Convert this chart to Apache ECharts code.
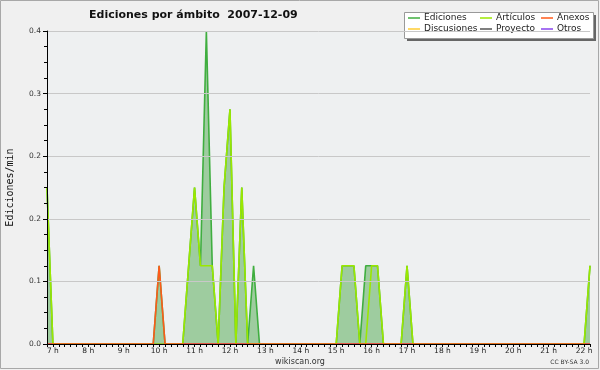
<!DOCTYPE html>
<html><head><meta charset="utf-8">
<script src="https://cdn.jsdelivr.net/npm/echarts@6/dist/echarts.min.js"></script>
<style>html,body{margin:0;padding:0;background:#f0f0f0}#c{width:600px;height:370px}</style>
</head><body><div id="c"></div>
<script>
// 10-minute bins, 6:50 .. 22:10
var categories = [
 "6:50",
 "7:00","7:10","7:20","7:30","7:40","7:50",
 "8:00","8:10","8:20","8:30","8:40","8:50",
 "9:00","9:10","9:20","9:30","9:40","9:50",
 "10:00","10:10","10:20","10:30","10:40","10:50",
 "11:00","11:10","11:20","11:30","11:40","11:50",
 "12:00","12:10","12:20","12:30","12:40","12:50",
 "13:00","13:10","13:20","13:30","13:40","13:50",
 "14:00","14:10","14:20","14:30","14:40","14:50",
 "15:00","15:10","15:20","15:30","15:40","15:50",
 "16:00","16:10","16:20","16:30","16:40","16:50",
 "17:00","17:10","17:20","17:30","17:40","17:50",
 "18:00","18:10","18:20","18:30","18:40","18:50",
 "19:00","19:10","19:20","19:30","19:40","19:50",
 "20:00","20:10","20:20","20:30","20:40","20:50",
 "21:00","21:10","21:20","21:30","21:40","21:50",
 "22:00","22:10"
];
var ediciones = [
 0.2,
 0,0,0,0,0,0,
 0,0,0,0,0,0,
 0,0,0,0,0,0,
 0.1,0,0,0,0,0.1,
 0.2,0.1,0.4,0.1,0,0.2,
 0.3,0,0.2,0,0.1,0,
 0,0,0,0,0,0,
 0,0,0,0,0,0,
 0,0.1,0.1,0.1,0,0.1,
 0.1,0.1,0,0,0,0,
 0.1,0,0,0,0,0,
 0,0,0,0,0,0,
 0,0,0,0,0,0,
 0,0,0,0,0,0,
 0,0,0,0,0,0,
 0,0.1
];
var articulos = [
 0.2,
 0,0,0,0,0,0,
 0,0,0,0,0,0,
 0,0,0,0,0,0,
 0,0,0,0,0,0.1,
 0.2,0.1,0.1,0.1,0,0.2,
 0.3,0,0.2,0,0,0,
 0,0,0,0,0,0,
 0,0,0,0,0,0,
 0,0.1,0.1,0.1,0,0,
 0.1,0.1,0,0,0,0,
 0.1,0,0,0,0,0,
 0,0,0,0,0,0,
 0,0,0,0,0,0,
 0,0,0,0,0,0,
 0,0,0,0,0,0,
 0,0.1
];
var anexos = [
 0,
 0,0,0,0,0,0,
 0,0,0,0,0,0,
 0,0,0,0,0,0,
 0.1,0,0,0,0,0,
 0,0,0,0,0,0,
 0,0,0,0,0,0,
 0,0,0,0,0,0,
 0,0,0,0,0,0,
 0,0,0,0,0,0,
 0,0,0,0,0,0,
 0,0,0,0,0,0,
 0,0,0,0,0,0,
 0,0,0,0,0,0,
 0,0,0,0,0,0,
 0,0,0,0,0,0,
 0,0
];
var discusiones = anexos.map(function(){return 0;});
var proyecto = anexos.map(function(){return 0;});
var otros = anexos.map(function(){return 0;});
var yTicks = [0, 0.08, 0.16, 0.24, 0.32, 0.4];

var chart = echarts.init(document.getElementById('c'), null, {renderer:'canvas'});
var F = 'DejaVu Sans';
function line(name, data, color, z, extra){
  var s = {name:name, type:'line', data:data, symbol:'none', z:z,
    lineStyle:{color:color, width:1.6}, itemStyle:{color:color}, animation:false};
  if (extra) for (var k in extra) s[k]=extra[k];
  return s;
}
var legendBase = {orient:'vertical', itemWidth:12, itemHeight:1.5, itemGap:0, icon:'rect',
  selectedMode:false, padding:0, top:12.5,
  textStyle:{fontFamily:F, fontSize:9, color:'#222', lineHeight:11, padding:[0,0,0,-1]}};
function lg(left, names){ var o = JSON.parse(JSON.stringify(legendBase)); o.left=left; o.data=names; return o; }

chart.setOption({
  backgroundColor:'#f0f0f0',
  animation:false,
  title:{text:'Ediciones por ámbito  2007-12-09', left:84, top:5,
    textStyle:{fontFamily:F, fontSize:11, fontWeight:'bold', color:'#111'}},
  legend:[lg(408,['Ediciones','Discusiones']), lg(480,['Artículos','Proyecto']), lg(541,['Anexos','Otros'])],
  grid:{left:47, right:10, top:31, bottom:26, show:true, backgroundColor:'#eef0f1', borderWidth:0,
    containLabel:false, outerBoundsMode:'none'},
  xAxis:{type:'category', data:categories, boundaryGap:false, z:10,
    axisLine:{lineStyle:{color:'#000', width:1}},
    axisTick:{interval:0, length:3, lineStyle:{color:'#000'}},
    axisLabel:{interval:function(i){return i%6===1;}, margin:3,
      formatter:function(v){return v.split(':')[0]+' h';},
      fontFamily:F, fontSize:7.5, color:'#222'},
    splitLine:{show:false}},
  yAxis:{type:'value', min:yTicks[0], max:yTicks[yTicks.length-1], interval:yTicks[1]-yTicks[0], z:10,
    name:'Ediciones/min', nameLocation:'middle', nameGap:32, nameRotate:90,
    nameTextStyle:{fontFamily:'DejaVu Sans Mono', fontSize:10, color:'#111'},
    axisLine:{show:true, lineStyle:{color:'#000'}},
    axisTick:{show:true, length:4, lineStyle:{color:'#000'}},
    minorTick:{show:true, splitNumber:4, length:3, lineStyle:{color:'#000'}},
    axisLabel:{formatter:function(v){return v.toFixed(1);}, margin:6,
      fontFamily:F, fontSize:7.5, color:'#333'},
    splitLine:{show:true, lineStyle:{color:'#c8c8c8', width:1}}},
  graphic:[
    {type:'rect', z:1, shape:{x:0.5, y:0.5, width:598, height:368}, style:{fill:null, stroke:'#a8a8a8', lineWidth:1}},
    {type:'rect', z:1, shape:{x:407, y:15, width:189, height:26}, style:{fill:'#666'}},
    {type:'rect', z:1, shape:{x:404.5, y:12.5, width:189, height:26}, style:{fill:'#ffffff', stroke:'#999', lineWidth:1}},
    {type:'text', z:5, x:300, y:362, style:{text:'wikiscan.org', fontFamily:F, fontSize:8, fill:'#333', textAlign:'center', textVerticalAlign:'middle'}},
    {type:'text', z:5, x:589, y:362, style:{text:'CC BY-SA 3.0', fontFamily:F, fontSize:6, fill:'#333', textAlign:'right', textVerticalAlign:'middle'}}
  ],
  series:[
    line('Ediciones', ediciones, '#3fae3f', 2, {areaStyle:{color:'rgba(60,160,60,0.45)', opacity:1}}),
    line('Discusiones', discusiones, '#ffcc33', 3),
    line('Proyecto', proyecto, '#555555', 3),
    line('Otros', otros, '#8844ee', 3),
    line('Artículos', articulos, '#9be800', 4),
    line('Anexos', anexos, '#ff5a1a', 5)
  ]
});
</script></body></html>
